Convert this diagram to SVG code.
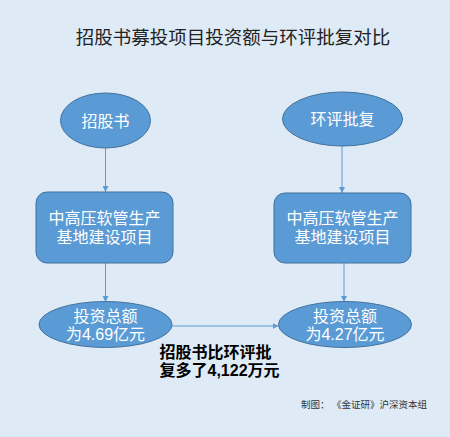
<svg xmlns="http://www.w3.org/2000/svg" width="450" height="437" viewBox="0 0 450 437">
<style>
.node{fill:#5B9BD5;stroke:#41719C;stroke-width:1}
.nt{fill:#ffffff;font-family:"Liberation Sans","Noto Sans CJK SC",sans-serif;font-size:16px;text-anchor:middle}
.conn{stroke:#5B9BD5;stroke-width:1;fill:none}
.foot{font-family:"Liberation Sans","Noto Sans CJK SC",sans-serif;font-size:9.5px;fill:#333}
</style>
<defs>
<marker id="arr" markerWidth="6" markerHeight="6" refX="6" refY="3" orient="auto" markerUnits="userSpaceOnUse">
<path d="M0,0 L6,3 L0,6 Z" fill="#5B9BD5"/>
</marker>
</defs>
<rect width="450" height="437" fill="#DEEAF6"/>
<text x="233" y="44" font-family="'Liberation Sans','Noto Sans CJK SC',sans-serif" font-size="18.5" fill="#222" text-anchor="middle">招股书募投项目投资额与环评批复对比</text>
<g id="connectors">
<line class="conn" x1="105.5" y1="148" x2="105.5" y2="192" marker-end="url(#arr)"/>
<line class="conn" x1="342" y1="146" x2="342" y2="193" marker-end="url(#arr)"/>
<line class="conn" x1="105.5" y1="263" x2="105.5" y2="302" marker-end="url(#arr)"/>
<line class="conn" x1="344" y1="263" x2="344" y2="302" marker-end="url(#arr)"/>
<line class="conn" x1="172" y1="326" x2="278.5" y2="326" marker-end="url(#arr)"/>
</g>
<g id="n1">
<ellipse class="node" cx="105.5" cy="120.5" rx="45" ry="27.5"/>
<text class="nt" x="105.5" y="126.5">招股书</text>
</g>
<g id="n2">
<ellipse class="node" cx="342.5" cy="119" rx="60" ry="27"/>
<text class="nt" x="342.5" y="125">环评批复</text>
</g>
<g id="n3">
<rect class="node" x="36" y="192" width="137" height="71" rx="11"/>
<text class="nt" x="104.5" y="224">中高压软管生产</text>
<text class="nt" x="104.5" y="243">基地建设项目</text>
</g>
<g id="n4">
<rect class="node" x="274" y="193" width="137" height="70" rx="11"/>
<text class="nt" x="342.5" y="224">中高压软管生产</text>
<text class="nt" x="342.5" y="243">基地建设项目</text>
</g>
<g id="n5">
<ellipse class="node" cx="105.5" cy="324.5" rx="66.5" ry="23"/>
<text class="nt" x="105.5" y="322">投资总额</text>
<text class="nt" x="105.5" y="340">为4.69亿元</text>
</g>
<g id="n6">
<ellipse class="node" cx="345" cy="324.5" rx="66.5" ry="23"/>
<text class="nt" x="345" y="322">投资总额</text>
<text class="nt" x="345" y="340">为4.27亿元</text>
</g>
<text x="159.5" y="357.5" font-family="'Liberation Sans','Noto Sans CJK SC',sans-serif" font-size="16" font-weight="bold" fill="#000">招股书比环评批</text>
<text x="159.5" y="376" font-family="'Liberation Sans','Noto Sans CJK SC',sans-serif" font-size="16" font-weight="bold" fill="#000">复多了4,122万元</text>
<text class="foot" x="301" y="408">制图：</text>
<text class="foot" x="332" y="408">《金证研》沪深资本组</text>
</svg>
